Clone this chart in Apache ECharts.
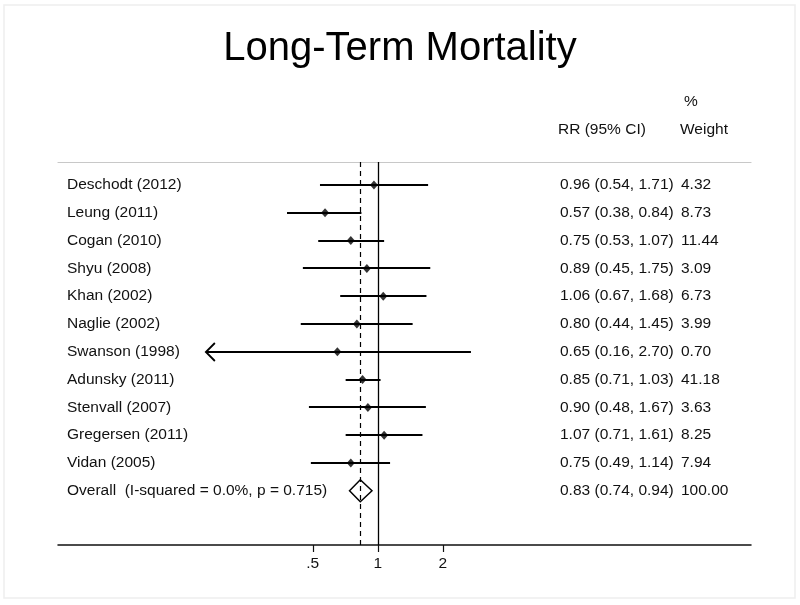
<!DOCTYPE html>
<html><head><meta charset="utf-8">
<script src="https://cdn.jsdelivr.net/npm/echarts@6/dist/echarts.min.js"></script>
<style>html,body{margin:0;padding:0;background:#fff}#c{width:800px;height:605px}</style>
</head><body><div id="c"></div>
<script>
// ---- data ----
const studies = ['Deschodt (2012)','Leung (2011)','Cogan (2010)','Shyu (2008)','Khan (2002)','Naglie (2002)','Swanson (1998)','Adunsky (2011)','Stenvall (2007)','Gregersen (2011)','Vidan (2005)'];
const rr      = [0.96,0.57,0.75,0.89,1.06,0.80,0.65,0.85,0.90,1.07,0.75];
const lower   = [0.54,0.38,0.53,0.45,0.67,0.44,0.16,0.71,0.48,0.71,0.49];
const upper   = [1.71,0.84,1.07,1.75,1.68,1.45,2.70,1.03,1.67,1.61,1.14];
const weights = [4.32,8.73,11.44,3.09,6.73,3.99,0.70,41.18,3.63,8.25,7.94];
const overallLabel = 'Overall  (I-squared = 0.0%, p = 0.715)';
const overallRR = 0.83, overallLower = 0.74, overallUpper = 0.94, overallWeight = 100.00;
const nullValue = 1;
const xTicks = [0.5, 1, 2];
const xTickLabels = ['.5', '1', '2'];
const title = 'Long-Term Mortality';
const headerRR = 'RR (95% CI)';
const headerW1 = '%';
const headerW2 = 'Weight';

// ---- layout / style ----
const FONT = '"Liberation Sans", Arial, Helvetica, sans-serif';
const FS = 15.5;
const X_MIN = Math.pow(2, -4.918), X_MAX = Math.pow(2, 5.74);
const CLIP_LOW = 0.25;
const COL_RR = 560, COL_W = 681;

const nRows = studies.length + 1;
const ciData = studies.map((s, i) => [lower[i], upper[i], i, lower[i] < CLIP_LOW ? 1 : 0]);
const ptData = studies.map((s, i) => [rr[i], i]);
const rowText = studies.map((s, i) => [s, rr[i].toFixed(2) + ' (' + lower[i].toFixed(2) + ', ' + upper[i].toFixed(2) + ')', weights[i].toFixed(2)]);
rowText.push([overallLabel, overallRR.toFixed(2) + ' (' + overallLower.toFixed(2) + ', ' + overallUpper.toFixed(2) + ')', overallWeight.toFixed(2)]);
const textData = rowText.map((r, i) => [1, i]);

const chart = echarts.init(document.getElementById('c'), null, {renderer: 'canvas'});
const txt = (text, x, y) => ({type: 'text', x, y, style: {text, font: FS + 'px ' + FONT, fill: '#111', textVerticalAlign: 'middle'}});

chart.setOption({
  animation: false,
  backgroundColor: '#fff',
  title: {text: title, left: 'center', top: 24, textStyle: {fontFamily: FONT, fontSize: 40, fontWeight: 'normal', color: '#000'}},
  graphic: [
    {type: 'rect', shape: {x: 4, y: 5, width: 791, height: 593}, style: {fill: null, stroke: '#eeeeee', lineWidth: 1.5}, z: -1},
    {type: 'text', left: COL_W + 3, top: 94, style: {text: headerW1, font: FS + 'px ' + FONT, fill: '#111'}},
    {type: 'text', left: COL_RR - 2, top: 122, style: {text: headerRR, font: FS + 'px ' + FONT, fill: '#111'}},
    {type: 'text', left: COL_W - 1, top: 122, style: {text: headerW2, font: FS + 'px ' + FONT, fill: '#111'}}
  ],
  grid: {left: 58, right: 49, top: 162, bottom: 60},
  xAxis: [
    {type: 'log', logBase: 2, min: X_MIN, max: X_MAX, position: 'bottom',
     axisLine: {onZero: false, lineStyle: {color: '#111', width: 1.5}},
     axisTick: {show: true, customValues: xTicks, length: 7, lineStyle: {color: '#111', width: 1.2}},
     axisLabel: {customValues: xTicks, margin: 11, fontFamily: FONT, fontSize: FS, color: '#111',
       formatter: v => { const k = xTicks.findIndex(t => Math.abs(t - v) < 1e-6); return k >= 0 ? xTickLabels[k] : ''; }},
     splitLine: {show: false}, minorTick: {show: false}},
    {type: 'log', logBase: 2, min: X_MIN, max: X_MAX, position: 'top',
     axisLine: {onZero: false, lineStyle: {color: '#c8c8c8', width: 1.2}},
     axisTick: {show: false}, axisLabel: {show: false}, splitLine: {show: false}}
  ],
  yAxis: {type: 'value', inverse: true, min: -0.827, max: 12.95, show: false},
  series: [
    {
      type: 'custom', name: 'ci', data: ciData, encode: {x: [0, 1], y: 2}, z: 3,
      renderItem(params, api) {
        const row = api.value(2);
        const p1 = api.coord([api.value(0), row]);
        const p2 = api.coord([api.value(1), row]);
        const y = Math.round(p1[1]);
        const ch = [{type: 'line', shape: {x1: p1[0], y1: y, x2: p2[0], y2: y}, style: {stroke: '#000', lineWidth: 2}}];
        if (api.value(3)) {
          ch.push({type: 'polyline', shape: {points: [[p1[0] + 9, y - 9], [p1[0], y], [p1[0] + 9, y + 9]]}, style: {stroke: '#000', fill: null, lineWidth: 1.8}});
        }
        return {type: 'group', children: ch};
      }
    },
    {
      type: 'scatter', name: 'rr', data: ptData, symbol: 'diamond', symbolSize: [8, 9], z: 4,
      itemStyle: {color: '#000'}
    },
    {
      type: 'custom', name: 'overall', data: [[overallRR, overallLower, overallUpper, nRows - 1]],
      encode: {x: [0, 1, 2], y: 3}, z: 4,
      renderItem(params, api) {
        const row = api.value(3);
        const c = api.coord([api.value(0), row]);
        const l = api.coord([api.value(1), row]);
        const r = api.coord([api.value(2), row]);
        return {type: 'polygon', shape: {points: [[l[0], c[1]], [c[0], c[1] - 11], [r[0], c[1]], [c[0], c[1] + 11]]}, style: {stroke: '#000', fill: null, lineWidth: 1.5}};
      },
      markLine: {
        silent: true, symbol: 'none', label: {show: false},
        data: [
          {xAxis: nullValue, lineStyle: {color: '#000', width: 1.3, type: 'solid'}},
          {xAxis: overallRR, lineStyle: {color: '#000', width: 1.2, type: [5, 4]}}
        ]
      }
    },
    {
      type: 'custom', name: 'text', data: textData, encode: {x: 0, y: 1}, z: 5,
      renderItem(params, api) {
        const i = params.dataIndex;
        const p = api.coord([api.value(0), api.value(1)]);
        const x0 = params.coordSys.x;
        const r = rowText[i];
        return {type: 'group', children: [txt(r[0], x0 + 9, p[1]), txt(r[1], COL_RR, p[1]), txt(r[2], COL_W, p[1])]};
      }
    }
  ]
});
</script></body></html>
